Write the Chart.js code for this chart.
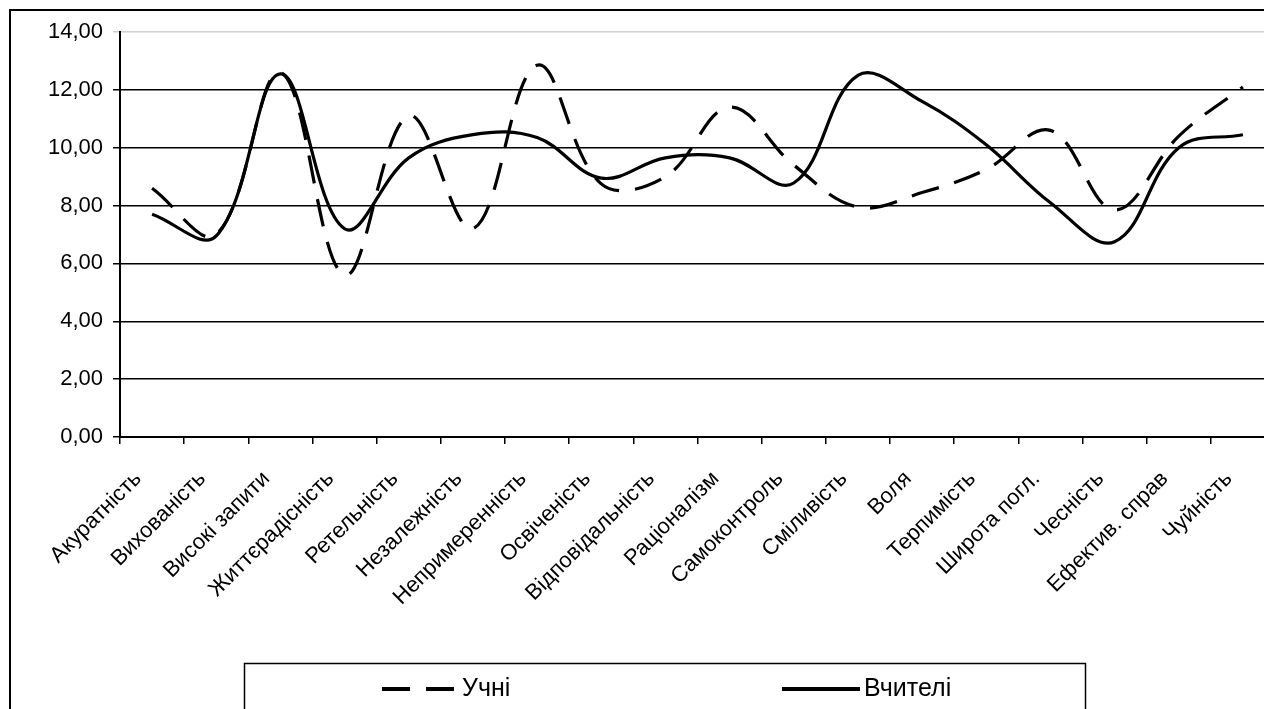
<!DOCTYPE html>
<html>
<head>
<meta charset="utf-8">
<script src="https://cdn.jsdelivr.net/npm/chart.js@4"></script>
<style>
  html, body { margin: 0; padding: 0; background: #fff; overflow: hidden; width: 1264px; height: 709px; }
  #frame { position: absolute; left: 9px; top: 9px; width: 1300px; height: 740px; border: 2px solid #000; box-sizing: border-box; }
  #wrap { position: absolute; left: 0; top: 0; width: 1310px; height: 760px; }
</style>
</head>
<body>
<div id="frame"></div>
<div id="wrap"><canvas id="c" width="1310" height="760"></canvas></div>
<script>
const categories = ['Акуратність','Вихованість','Високі запити','Життєрадісність','Ретельність','Незалежність','Непримеренність','Освіченість','Відповідальність','Раціоналізм','Самоконтроль','Сміливість','Воля','Терпимість','Широта погл.','Чесність','Ефектив. справ','Чуйність'];
const pupils   = [8.6, 7.0, 12.6, 5.6, 11.1, 7.2, 12.85, 8.75, 9.0, 11.4, 9.4, 7.95, 8.45, 9.25, 10.6, 7.85, 10.4, 12.1];
const teachers = [7.7, 6.95, 12.55, 7.2, 9.65, 10.45, 10.35, 8.95, 9.65, 9.65, 8.78, 12.5, 11.6, 10.1, 8.1, 6.75, 10.0, 10.45];
const seriesNames = ['Учні', 'Вчителі'];
const yMin = 0, yMax = 14, yStep = 2;

const FONT = '"Liberation Sans", Arial, sans-serif';

// Boxed legend drawn under the axis labels
const boxLegend = {
  id: 'boxLegend',
  afterDraw(chart) {
    const ctx = chart.ctx;
    ctx.save();
    ctx.strokeStyle = '#000';
    ctx.lineWidth = 1.5;
    ctx.strokeRect(244.5, 663.5, 841, 120);
    const items = [
      { x0: 382, x1: 454, tx: 462, dash: [28, 16] },
      { x0: 782, x1: 860, tx: 864, dash: [] }
    ];
    const yc = 689;
    chart.data.datasets.forEach((ds, i) => {
      const it = items[i];
      ctx.beginPath();
      ctx.setLineDash(it.dash);
      ctx.lineWidth = 4;
      ctx.lineCap = 'butt';
      ctx.moveTo(it.x0, yc);
      ctx.lineTo(it.x1, yc);
      ctx.stroke();
      ctx.setLineDash([]);
      ctx.fillStyle = '#000';
      ctx.font = '25px ' + FONT;
      ctx.textAlign = 'left';
      ctx.textBaseline = 'middle';
      ctx.fillText(ds.label, it.tx, yc);
    });
    ctx.restore();
  }
};

new Chart(document.getElementById('c'), {
  type: 'line',
  data: {
    labels: categories,
    datasets: [
      { label: seriesNames[0], data: pupils, borderColor: '#000', borderWidth: 3.2, borderDash: [28, 16], tension: 0.38, pointRadius: 0, fill: false },
      { label: seriesNames[1], data: teachers, borderColor: '#000', borderWidth: 3.2, tension: 0.38, pointRadius: 0, fill: false }
    ]
  },
  options: {
    responsive: false,
    animation: false,
    layout: { padding: { left: 0, top: 32, right: 35, bottom: 0 } },
    plugins: { legend: { display: false }, tooltip: { enabled: false } },
    scales: {
      x: {
        offset: true,
        grid: { offset: true, drawOnChartArea: false, drawTicks: true, tickLength: 7, color: '#000', lineWidth: 1.5 },
        border: { color: '#000', width: 2 },
        ticks: { color: '#000', font: { family: FONT, size: 22 }, minRotation: 45, maxRotation: 45, padding: 22, labelOffset: -14, autoSkip: false },
        afterFit(scale) { scale.height = 760 - 437; }
      },
      y: {
        min: yMin, max: yMax,
        ticks: {
          stepSize: yStep, color: '#000', padding: 10,
          font: { family: FONT, size: 22 },
          callback: v => v.toFixed(2).replace('.', ',')
        },
        grid: {
          color: ctx => (ctx.tick && ctx.tick.value === yMax) ? '#d0d0d0' : '#000',
          lineWidth: 1.5, tickLength: 7, drawTicks: true
        },
        border: { color: '#000', width: 2 },
        afterFit(scale) { scale.width = 120; }
      }
    }
  },
  plugins: [boxLegend]
});
</script>
</body>
</html>
